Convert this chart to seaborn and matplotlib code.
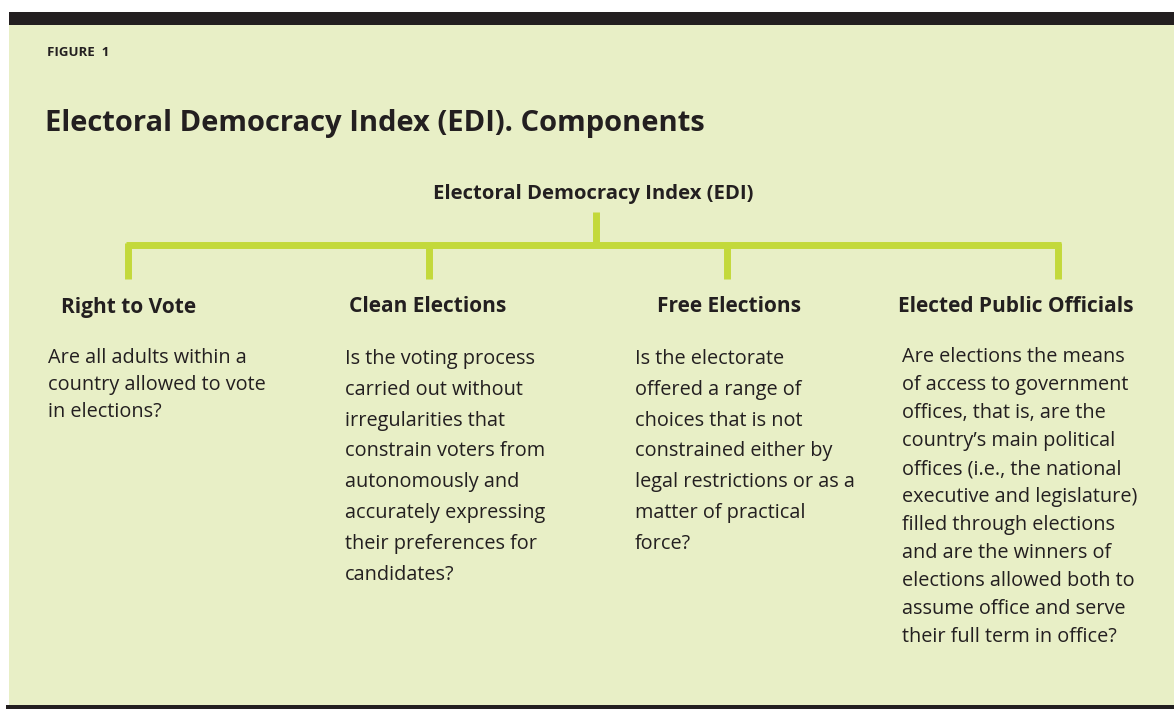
import matplotlib
matplotlib.use("Agg")
import matplotlib.pyplot as plt
import seaborn as sns
import pandas as pd

sns.set_style("white")
plt.rcParams['font.family'] = ['Open Sans', 'DejaVu Sans']

# diagram content
figure_label = "FIGURE  1"
title = "Electoral Democracy Index (EDI). Components"
root_label = "Electoral Democracy Index (EDI)"
components = ["Right to Vote", "Clean Elections", "Free Elections", "Elected Public Officials"]
questions = [
    ["Are all adults within a", "country allowed to vote", "in elections?"],
    ["Is the voting process", "carried out without", "irregularities that",
     "constrain voters from", "autonomously and", "accurately expressing",
     "their preferences for", "candidates?"],
    ["Is the electorate", "offered a range of", "choices that is not",
     "constrained either by", "legal restrictions or as a",
     "matter of practical", "force?"],
    ["Are elections the means", "of access to government", "offices, that is, are the",
     "country\u2019s main political", "offices (i.e., the national",
     "executive and legislature)", "filled through elections",
     "and are the winners of", "elections allowed both to",
     "assume office and serve", "their full term in office?"],
]

# layout (pixel coordinates)
W, H = 1174, 709
root_x = 596
drop_x = [128, 429, 727, 1058]
head_x = [129, 428, 729, 1016]
body_x = [48, 345, 635, 902]
body_y0 = [358, 359, 359, 357]
body_dy = [27, 30.8, 30.8, 28]

BG = "#E8EFC6"
GREEN = "#C3D93B"
DARK = "#231F20"

fig = plt.figure(figsize=(W / 100, H / 100), dpi=100)
fig.patch.set_facecolor("white")
ax = fig.add_axes([0, 0, 1, 1])

# panel background and rules
ax.add_patch(plt.Rectangle((9, 25), W - 9, 680, color=BG, lw=0))
ax.add_patch(plt.Rectangle((9, 12), W - 9, 13, color=DARK, lw=0))
ax.add_patch(plt.Rectangle((6, 705), W - 6, 4, color=DARK, lw=0))

# tree connectors
segs = [pd.DataFrame({"x": [root_x, root_x], "y": [212, 245], "seg": "root"}),
        pd.DataFrame({"x": [drop_x[0] - 2.5, drop_x[-1] + 2.5], "y": [245, 245], "seg": "bar"})]
for i, dx in enumerate(drop_x):
    segs.append(pd.DataFrame({"x": [dx, dx], "y": [243, 279], "seg": f"d{i}"}))
lines = pd.concat(segs, ignore_index=True)
sns.lineplot(data=lines, x="x", y="y", units="seg", estimator=None, sort=False,
             color=GREEN, lw=5, ax=ax, legend=False, solid_capstyle="butt")
ax.set_xlim(0, W)
ax.set_ylim(H, 0)
ax.axis("off")

ax.text(47, 52, figure_label, fontsize=9.5, fontweight="bold", color=DARK, va="center")
ax.text(45, 124, title, fontsize=21, fontweight="bold", color=DARK, va="center")
ax.text(593, 194, root_label, fontsize=14.6, fontweight="bold", color=DARK,
        va="center", ha="center")

for i, comp in enumerate(components):
    ax.text(head_x[i], 307, comp, fontsize=15, fontweight="bold", color=DARK,
            va="center", ha="center")
    for j, line in enumerate(questions[i]):
        ax.text(body_x[i], body_y0[i] + j * body_dy[i], line, fontsize=14.3,
                color=DARK, va="center")

fig.savefig("out.png", dpi=100, facecolor="white")
